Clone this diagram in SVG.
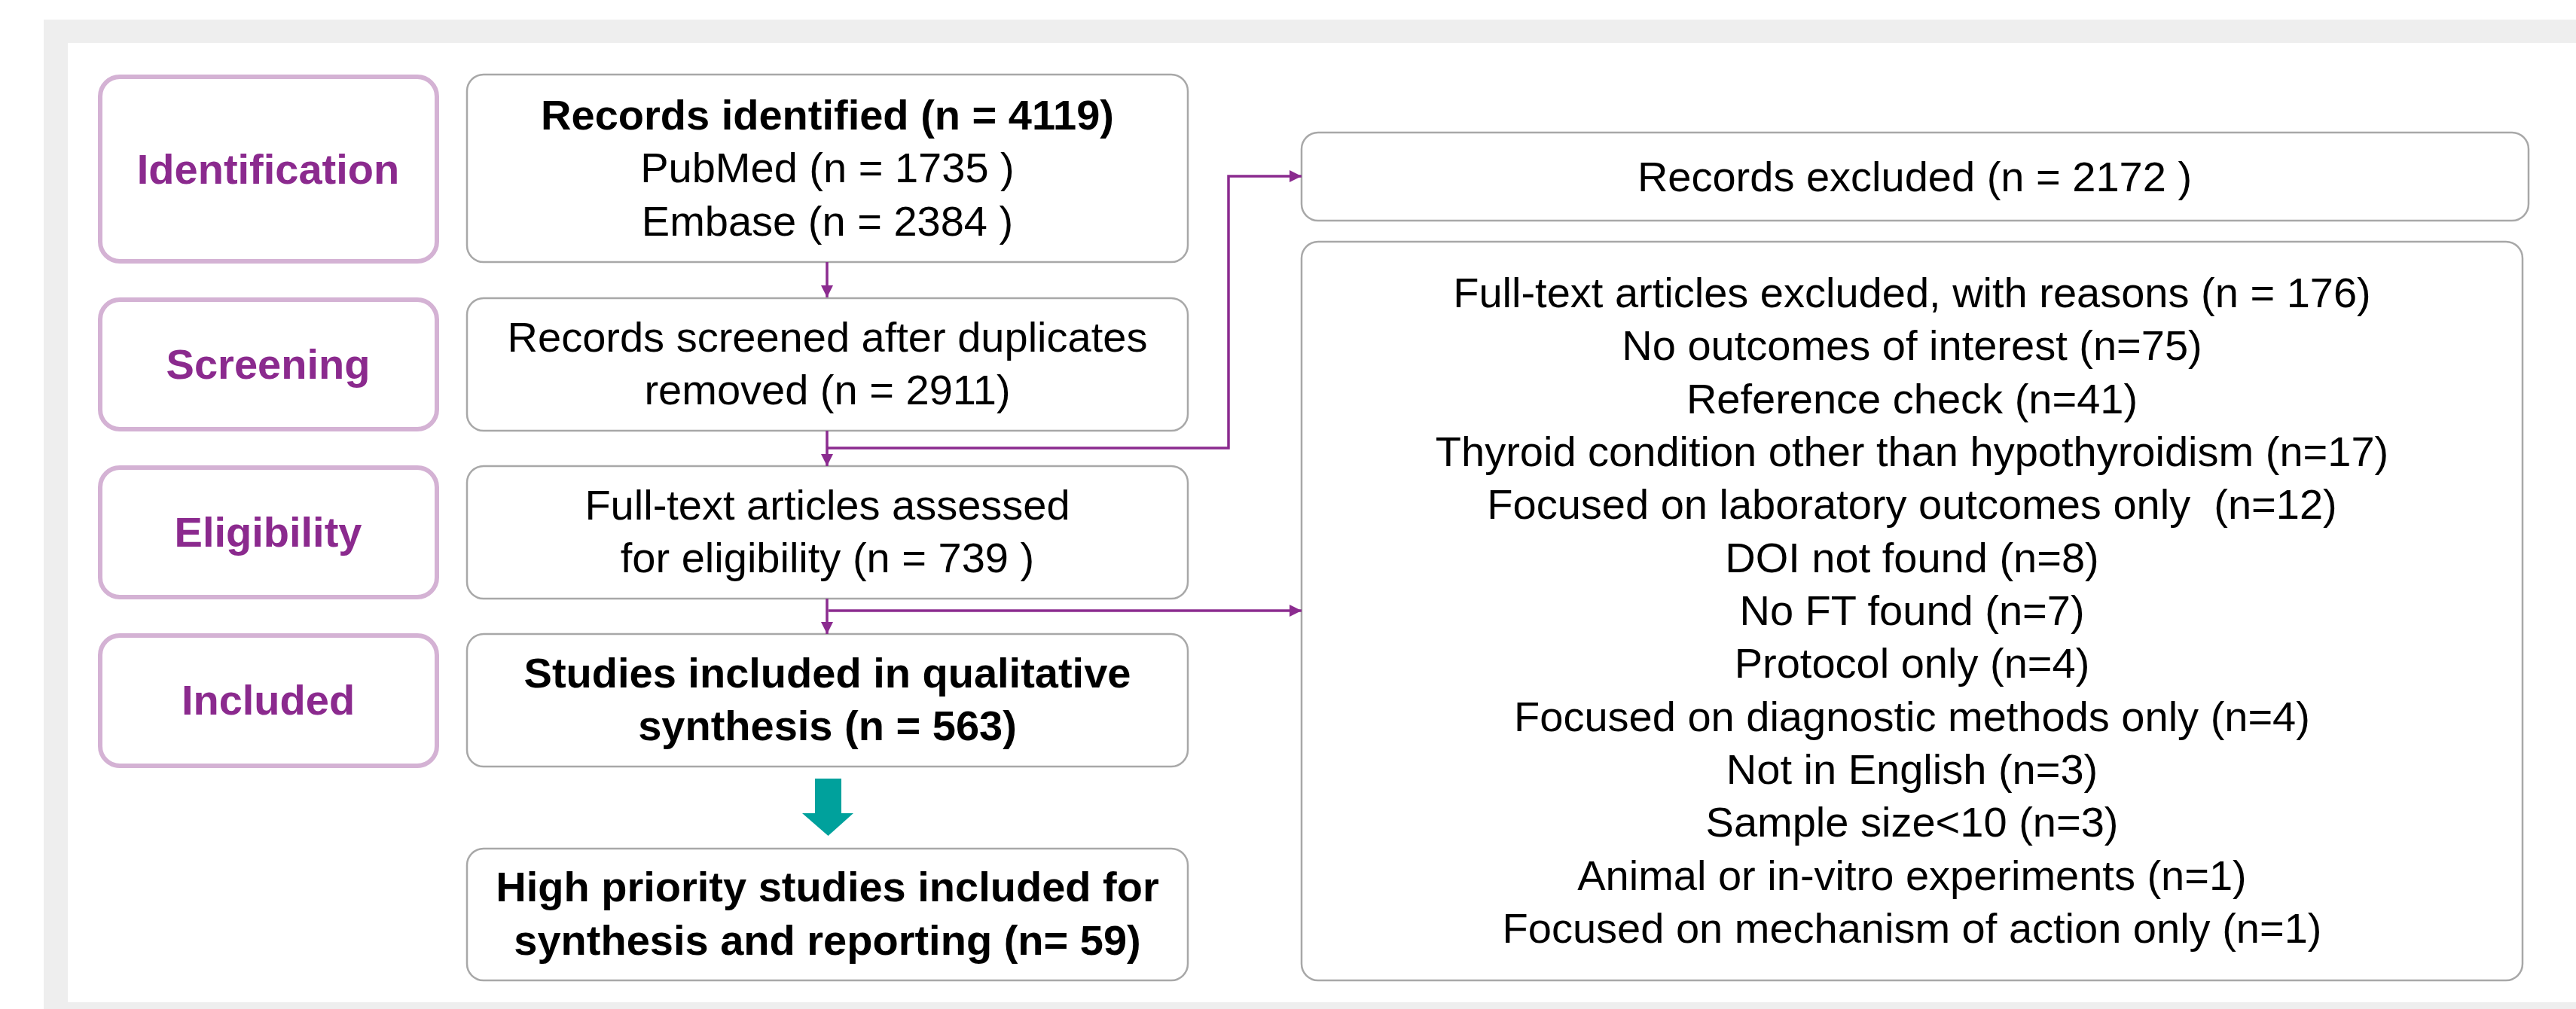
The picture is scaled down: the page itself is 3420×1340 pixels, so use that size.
<svg xmlns="http://www.w3.org/2000/svg" width="3420" height="1340" viewBox="0 0 3420 1340">
<defs>
<style>
.t{font-family:"Liberation Sans",Arial,sans-serif;font-size:56px;fill:#000;text-anchor:middle}
.b{font-weight:bold}
.lab{font-family:"Liberation Sans",Arial,sans-serif;font-size:56px;font-weight:bold;fill:#8B2A8E;text-anchor:middle}
.stage{fill:#fff;stroke:#D4B2D4;stroke-width:6}
.box{fill:#fff;stroke:#A8A8A8;stroke-width:2.5}
.con{fill:none;stroke:#8B2B8F;stroke-width:3.5}
</style>
<marker id="ah" markerUnits="userSpaceOnUse" markerWidth="16" markerHeight="16" viewBox="0 0 16 16" refX="16" refY="8" orient="auto">
<path d="M0,0 L16,8 L0,16 Z" fill="#8B2B8F"/>
</marker>
</defs>
<rect x="0" y="0" width="3420" height="1340" fill="#fff"/>
<rect x="58" y="26" width="3362" height="1314" fill="#EEEEEE"/>
<rect x="90" y="57" width="3330" height="1274" fill="#fff"/>

<g id="stage-identification"><rect class="stage" x="133" y="102" width="447" height="245" rx="26"/><text class="lab" x="356" y="244">Identification</text></g>
<g id="stage-screening"><rect class="stage" x="133" y="398" width="447" height="172" rx="26"/><text class="lab" x="356" y="503">Screening</text></g>
<g id="stage-eligibility"><rect class="stage" x="133" y="621" width="447" height="172" rx="26"/><text class="lab" x="356" y="726">Eligibility</text></g>
<g id="stage-included"><rect class="stage" x="133" y="844" width="447" height="173" rx="26"/><text class="lab" x="356" y="949">Included</text></g>

<g id="identified"><rect class="box" x="620" y="99" width="957" height="249" rx="22"/>
<text class="t b" x="1098.5" y="172">Records identified (n = 4119)</text>
<text class="t" x="1098.5" y="242">PubMed (n = 1735 )</text>
<text class="t" x="1098.5" y="313">Embase (n = 2384 )</text></g>

<g id="screened"><rect class="box" x="620" y="396" width="957" height="176" rx="22"/>
<text class="t" x="1098.5" y="467">Records screened after duplicates</text>
<text class="t" x="1098.5" y="537">removed (n = 2911)</text></g>

<g id="assessed"><rect class="box" x="620" y="619" width="957" height="176" rx="22"/>
<text class="t" x="1098.5" y="690">Full-text articles assessed</text>
<text class="t" x="1098.5" y="760">for eligibility (n = 739 )</text></g>

<g id="included"><rect class="box" x="620" y="842" width="957" height="176" rx="22"/>
<text class="t b" x="1098.5" y="913">Studies included in qualitative</text>
<text class="t b" x="1098.5" y="983">synthesis (n = 563)</text></g>

<g id="high-priority"><rect class="box" x="620" y="1127" width="957" height="175" rx="22"/>
<text class="t b" x="1098.5" y="1197">High priority studies included for</text>
<text class="t b" x="1098.5" y="1268">synthesis and reporting (n= 59)</text></g>

<g id="records-excluded"><rect class="box" x="1728" y="176" width="1629" height="117" rx="22"/>
<text class="t" x="2542" y="254">Records excluded (n = 2172 )</text></g>

<g id="fulltext-excluded"><rect class="box" x="1728" y="321" width="1621" height="981" rx="22"/>
<text class="t" x="2538.5" y="408">Full-text articles excluded, with reasons (n = 176)</text>
<text class="t" x="2538.5" y="478">No outcomes of interest (n=75)</text>
<text class="t" x="2538.5" y="549">Reference check (n=41)</text>
<text class="t" x="2538.5" y="619">Thyroid condition other than hypothyroidism (n=17)</text>
<text class="t" x="2538.5" y="689" xml:space="preserve">Focused on laboratory outcomes only  (n=12)</text>
<text class="t" x="2538.5" y="760">DOI not found (n=8)</text>
<text class="t" x="2538.5" y="830">No FT found (n=7)</text>
<text class="t" x="2538.5" y="900">Protocol only (n=4)</text>
<text class="t" x="2538.5" y="971">Focused on diagnostic methods only (n=4)</text>
<text class="t" x="2538.5" y="1041">Not in English (n=3)</text>
<text class="t" x="2538.5" y="1111">Sample size&lt;10 (n=3)</text>
<text class="t" x="2538.5" y="1182">Animal or in-vitro experiments (n=1)</text>
<text class="t" x="2538.5" y="1252">Focused on mechanism of action only (n=1)</text></g>

<g id="connectors">
<path class="con" d="M1098,348 V395" marker-end="url(#ah)"/>
<path class="con" d="M1098,572 V619" marker-end="url(#ah)"/>
<path class="con" d="M1098,595 H1631 V234 H1728" marker-end="url(#ah)"/>
<path class="con" d="M1098,795 V842" marker-end="url(#ah)"/>
<path class="con" d="M1100,811 H1728" marker-end="url(#ah)"/>
<path d="M1082,1034 H1117 V1080 H1133 L1099.5,1110 L1065,1080 H1082 Z" fill="#00A19C"/>
</g>
</svg>
